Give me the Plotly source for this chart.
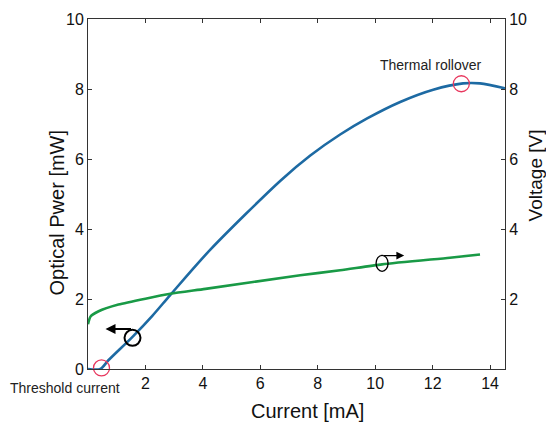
import plotly.graph_objects as go

# ---- data ----
current_L = [0, 0.43, 0.71, 1.55, 2.24, 2.87, 4.26, 6.70, 7.74, 8.78, 9.72, 10.87, 12.02, 13.06, 13.65, 14.52]
power_mW = [0, 0, 0.25, 0.92, 1.52, 2.12, 3.41, 5.38, 6.10, 6.70, 7.16, 7.63, 7.98, 8.16, 8.16, 8.02]

current_V = [0, 0.09, 0.37, 1.06, 2.0, 2.87, 4.09, 7.39, 8.78, 10.24, 12.6, 13.65]
voltage_V = [1.28, 1.5, 1.65, 1.84, 2.01, 2.15, 2.29, 2.68, 2.82, 2.99, 3.18, 3.27]

marked_I = [0.47, 13.0]
marked_P = [0.03, 8.15]

x_ticks = [2, 4, 6, 8, 10, 12, 14]
y_ticks = [0, 2, 4, 6, 8, 10]
y2_ticks = [2, 4, 6, 8, 10]

FONT = "Arial, Liberation Sans, sans-serif"
AX = "#333333"

fig = go.Figure()
fig.add_trace(go.Scatter(x=current_L, y=power_mW, mode="lines",
                         line=dict(color="#1d6aa3", width=2.6, shape="spline", smoothing=0.8),
                         showlegend=False))
fig.add_trace(go.Scatter(x=current_V, y=voltage_V, mode="lines", yaxis="y2",
                         line=dict(color="#199a46", width=2.6, shape="spline", smoothing=0.6),
                         showlegend=False))
fig.add_trace(go.Scatter(x=marked_I, y=marked_P, mode="markers",
                         marker=dict(symbol="circle-open", size=16, color="#e8375e",
                                     line=dict(width=1.3, color="#e8375e")),
                         showlegend=False, cliponaxis=False))

axis_common = dict(showline=True, linecolor=AX, linewidth=1, ticks="inside", ticklen=4,
                   tickcolor=AX, tickwidth=1, showgrid=False, zeroline=False,
                   tickfont=dict(family=FONT, size=16, color="#111"))

fig.update_layout(
    width=546, height=428,
    margin=dict(l=88, r=41, t=11, b=59),
    plot_bgcolor="white", paper_bgcolor="white",
    font=dict(family=FONT),
    xaxis=dict(range=[0, 14.52], tickvals=x_ticks, mirror="ticks", **axis_common),
    yaxis=dict(range=[0, 10], tickvals=y_ticks, **axis_common),
    yaxis2=dict(range=[0, 10], tickvals=y2_ticks, overlaying="y", side="right", **axis_common),
    shapes=[
        dict(type="circle", xref="x", yref="y", xsizemode="pixel", ysizemode="pixel",
             xanchor=1.55, yanchor=0.89, x0=-8, x1=8, y0=-8, y1=8,
             line=dict(color="black", width=2)),
        dict(type="circle", xref="x", yref="y", xsizemode="pixel", ysizemode="pixel",
             xanchor=10.24, yanchor=3.02, x0=-6, x1=6, y0=-8, y1=8,
             line=dict(color="black", width=1.3)),
    ],
    annotations=[
        dict(x=0.61, y=1.145, xref="x", yref="y", ax=27, ay=0, text="", showarrow=True,
             arrowhead=2, arrowsize=1, arrowwidth=2, arrowcolor="black"),
        dict(x=11.01, y=3.24, xref="x", yref="y", ax=-22, ay=0, text="", showarrow=True,
             arrowhead=2, arrowsize=1.2, arrowwidth=1.3, arrowcolor="black"),
        dict(x=11.91, y=8.69, xref="x", yref="y", text="Thermal rollover", showarrow=False,
             xanchor="center", yanchor="middle",
             font=dict(family=FONT, size=14, color="#222")),
        dict(x=-0.054, y=-0.053, xref="paper", yref="paper", text="Threshold current",
             showarrow=False, xanchor="center", yanchor="middle",
             font=dict(family=FONT, size=14, color="#222")),
        dict(x=0, y=0.447, xref="paper", yref="paper", xshift=-31, text="Optical Pwer [mW]",
             xanchor="center", yanchor="middle",
             textangle=-90, showarrow=False, font=dict(family=FONT, size=20, color="#111")),
        dict(x=1, y=0.553, xref="paper", yref="paper", xshift=30, text="Voltage [V]",
             xanchor="center", yanchor="middle",
             textangle=-90, showarrow=False, font=dict(family=FONT, size=19, color="#111")),
        dict(x=0.526, y=0, xref="paper", yref="paper", yshift=-42, text="Current [mA]",
             xanchor="center", yanchor="middle",
             showarrow=False, font=dict(family=FONT, size=20, color="#111")),
    ],
)

fig.write_html("out.html")
